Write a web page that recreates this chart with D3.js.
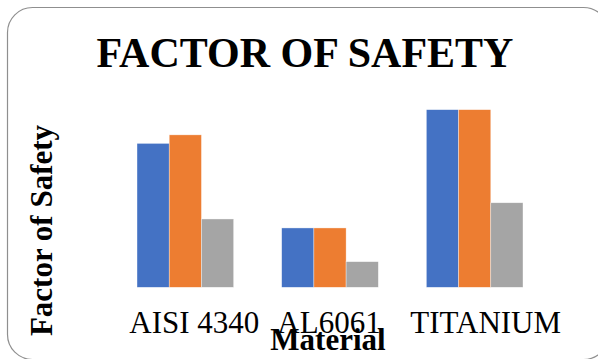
<!DOCTYPE html>
<html>
<head>
<meta charset="utf-8">
<script src="https://cdn.jsdelivr.net/npm/d3@7"></script>
<style>
  html, body { margin: 0; padding: 0; background: #fff; }
  svg { display: block; }
</style>
</head>
<body>
<svg id="chart" width="598" height="359"></svg>
<script>
// Factor of safety per material, three load cases
const materials = ["AISI 4340", "AL6061", "TITANIUM"];
const seriesNames = ["Case 1", "Case 2", "Case 3"];
const case1 = [3.37, 1.39, 4.16];
const case2 = [3.57, 1.39, 4.16];
const case3 = [1.60, 0.60, 1.98];
const seriesValues = [case1, case2, case3];
const colors = ["#4472C4", "#ED7D31", "#A5A5A5"];

const W = 598, H = 359;
const svg = d3.select("#chart");
const serif = "'Liberation Serif', 'Times New Roman', Times, serif";

// rounded chart frame
svg.append("rect")
  .attr("x", 7.5).attr("y", 7.5)
  .attr("width", 601).attr("height", 352)
  .attr("rx", 25).attr("ry", 25)
  .attr("fill", "#fff")
  .attr("stroke", "#8f8f8f")
  .attr("stroke-width", 1.2);

// title
svg.append("text")
  .attr("x", 305).attr("y", 67)
  .attr("text-anchor", "middle")
  .attr("font-family", serif)
  .attr("font-weight", "bold")
  .attr("font-size", 42)
  .text("FACTOR OF SAFETY");

const x0 = d3.scaleBand()
  .domain(materials)
  .range([113, 547])
  .paddingInner(0.332)
  .paddingOuter(0.166);

const x1 = d3.scaleBand()
  .domain(seriesNames)
  .range([0, x0.bandwidth()])
  .padding(0);

const y = d3.scaleLinear()
  .domain([0, 5])
  .range([287.3, 73.8]);

const rows = materials.map((m, i) => ({
  material: m,
  values: seriesNames.map((s, j) => ({ series: s, value: seriesValues[j][i], color: colors[j] }))
}));

const groups = svg.append("g").selectAll("g")
  .data(rows)
  .join("g")
  .attr("transform", d => `translate(${x0(d.material)},0)`);

groups.selectAll("rect")
  .data(d => d.values)
  .join("rect")
  .attr("x", d => x1(d.series))
  .attr("y", d => y(d.value))
  .attr("width", x1.bandwidth())
  .attr("height", d => y(0) - y(d.value))
  .attr("fill", d => d.color)
  .attr("stroke", "#ffffff")
  .attr("stroke-opacity", 0.6)
  .attr("stroke-width", 0.6);

// category axis (labels only, no line or ticks)
const labelShift = [9, -1, 11];
const xAxis = svg.append("g")
  .attr("transform", `translate(0,${y(0)})`)
  .call(d3.axisBottom(x0).tickSize(0).tickPadding(0));
xAxis.select(".domain").remove();
xAxis.selectAll(".tick text")
  .attr("font-family", serif)
  .attr("font-size", 31)
  .attr("fill", "#000")
  .attr("dy", null)
  .attr("y", 333.3 - 287.3)
  .attr("x", (d, i) => labelShift[i]);

// axis titles
svg.append("text")
  .attr("x", 328).attr("y", 349.5)
  .attr("text-anchor", "middle")
  .attr("font-family", serif)
  .attr("font-weight", "bold")
  .attr("font-size", 31)
  .text("Material");

svg.append("text")
  .attr("transform", "translate(52,230.5) rotate(-90)")
  .attr("text-anchor", "middle")
  .attr("font-family", serif)
  .attr("font-weight", "bold")
  .attr("font-size", 31)
  .text("Factor of Safety");
</script>
</body>
</html>
